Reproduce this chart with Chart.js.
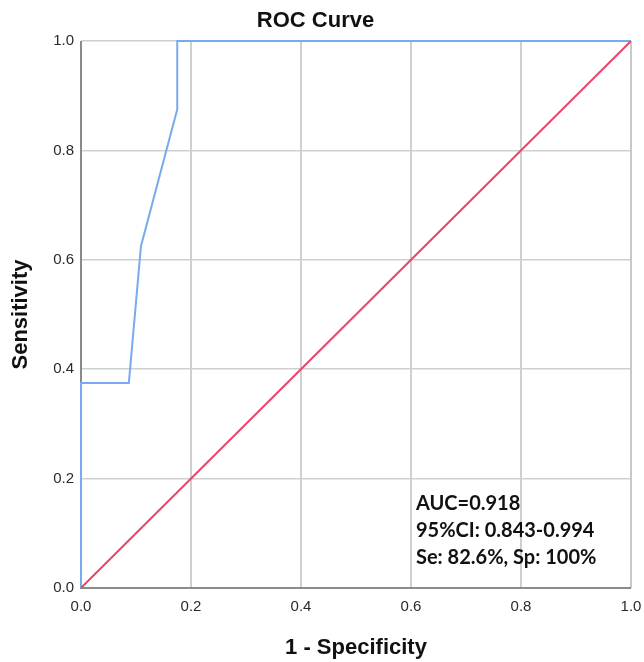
<!DOCTYPE html>
<html>
<head>
<meta charset="utf-8">
<script src="https://cdn.jsdelivr.net/npm/chart.js@4.4.0/dist/chart.umd.min.js"></script>
<style>
html,body{margin:0;padding:0;background:#fff;}
#wrap{width:644px;height:662px;position:relative;}
</style>
</head>
<body>
<div id="wrap"><canvas id="c" width="644" height="662"></canvas></div>
<script>
// Data
const rocFpr = [0, 0, 0.087, 0.109, 0.175, 0.175, 1.0];
const rocTpr = [0, 0.375, 0.375, 0.625, 0.875, 1.0, 1.0];
const refFpr = [0, 1];
const refTpr = [0, 1];
const tickValues = [0, 0.2, 0.4, 0.6, 0.8, 1.0];
const annotationLines = ["AUC=0.918", "95%CI: 0.843-0.994", "Se: 82.6%, Sp: 100%"];

const rocPoints = rocFpr.map((x, i) => ({x: x, y: rocTpr[i]}));
const refPoints = refFpr.map((x, i) => ({x: x, y: refTpr[i]}));

const annotationPlugin = {
  id: 'aucText',
  afterDatasetsDraw(chart) {
    const ctx = chart.ctx;
    const xs = chart.scales.x, ys = chart.scales.y;
    const x0 = xs.getPixelForValue(0.609);
    const yStart = ys.getPixelForValue(0.1536);
    ctx.save();
    ctx.fillStyle = '#111';
    ctx.font = 'bold 20px Lato, "Open Sans", sans-serif';
    ctx.textBaseline = 'middle';
    ctx.textAlign = 'left';
    annotationLines.forEach((t, i) => ctx.fillText(t, x0, yStart + i * 27));
    ctx.restore();
  }
};

const borderPlugin = {
  id: 'frame',
  beforeDatasetsDraw(chart) {
    const ctx = chart.ctx, a = chart.chartArea;
    ctx.save();
    ctx.strokeStyle = '#c9c9c9';
    ctx.lineWidth = 2;
    ctx.beginPath();
    ctx.moveTo(a.right, a.top); ctx.lineTo(a.right, a.bottom);
    ctx.stroke();
    ctx.strokeStyle = '#8a8a8a';
    ctx.lineWidth = 2;
    ctx.beginPath();
    ctx.moveTo(a.left, a.top); ctx.lineTo(a.left, a.bottom); ctx.lineTo(a.right, a.bottom);
    ctx.stroke();
    ctx.restore();
  }
};

const tickFont = {family: '"Liberation Sans", Arial, sans-serif', size: 15};
const titleFont = {family: '"Liberation Sans", Arial, sans-serif', size: 22, weight: 'bold'};

new Chart(document.getElementById('c'), {
  type: 'scatter',
  data: {
    datasets: [
      {data: refPoints, showLine: true, borderColor: '#e8466b', borderWidth: 2, pointRadius: 0, fill: false},
      {data: rocPoints, showLine: true, borderColor: '#78aaec', borderWidth: 2, pointRadius: 0, fill: false, tension: 0, clip: 4}
    ]
  },
  options: {
    responsive: false,
    animation: false,
    devicePixelRatio: 1,
    layout: {padding: {left: 0, right: 13, top: 0, bottom: 0}},
    plugins: {
      legend: {display: false},
      tooltip: {enabled: false},
      title: {
        display: true, text: 'ROC Curve', fullSize: true, color: '#111',
        font: titleFont,
        padding: {top: 8, bottom: 6.6}
      }
    },
    scales: {
      x: {
        type: 'linear', min: 0, max: 1,
        afterBuildTicks: s => { s.ticks = tickValues.map(v => ({value: v})); },
        afterFit: s => { s.height = 74; s.paddingRight = 0; s.paddingLeft = 0; },
        ticks: {color: '#2a2a2a', font: tickFont, padding: 10,
          callback: v => v.toFixed(1), maxRotation: 0},
        grid: {color: '#cfcfcf', lineWidth: 2, drawTicks: false},
        border: {display: false},
        title: {display: true, text: '1 - Specificity', color: '#111',
          font: titleFont, padding: {top: 14, bottom: 1}}
      },
      y: {
        type: 'linear', min: 0, max: 1,
        afterBuildTicks: s => { s.ticks = tickValues.map(v => ({value: v})); },
        afterFit: s => { s.width = 81; s.paddingTop = 0; s.paddingBottom = 0; },
        ticks: {color: '#2a2a2a', font: tickFont, padding: 7,
          callback: v => v.toFixed(1)},
        grid: {color: '#cfcfcf', lineWidth: 1.5, drawTicks: false},
        border: {display: false},
        title: {display: true, text: 'Sensitivity', color: '#111',
          font: titleFont, padding: {top: 8, bottom: 4}}
      }
    }
  },
  plugins: [borderPlugin, annotationPlugin]
});
</script>
</body>
</html>
